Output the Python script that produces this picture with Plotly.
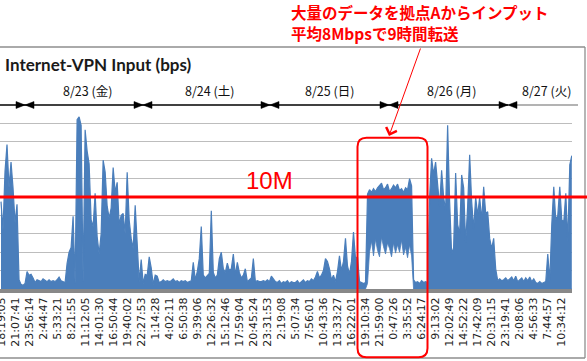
import plotly.graph_objects as go

# ---------------- data ----------------
time_labels = ["18:19:05", "21:07:41", "23:56:14", "2:44:47", "5:33:21", "8:21:55", "11:12:05",
               "14:01:30", "16:50:44", "19:40:02", "22:27:53", "1:14:28", "4:02:11", "6:50:38",
               "9:39:06", "12:26:32", "15:12:46", "17:59:04", "20:45:24", "23:31:53", "2:19:08",
               "5:07:34", "7:56:01", "10:43:36", "13:33:27", "16:22:01", "19:10:34", "21:59:00",
               "0:47:26", "3:35:52", "6:24:17", "9:13:02", "12:02:49", "14:52:22", "17:42:09",
               "20:31:15", "23:19:41", "2:08:06", "4:56:33", "7:44:57", "10:34:12"]
samples_per_label = 7

day_labels = ["8/23 (金)", "8/24 (土)", "8/25 (日)", "8/26 (月)", "8/27 (火)"]

# Internet-VPN input, upper envelope of the (very dense) trace, Mbps
input_upper_mbps = [
    9.5, 6.4, 12.8, 15.7, 11.0, 13.8, 11.0, 7.2, 9.2, 1.0,
    0.5, 0.4, 0.6, 1.9, 1.5, 1.6, 1.2, 0.7, 1.0, 0.9,
    0.8, 1.1, 0.9, 0.8, 1.0, 0.8, 0.9, 0.8, 1.0, 1.3,
    0.9, 0.8, 0.7, 2.8, 4.0, 4.5, 7.9, 0.6, 18.4, 18.7,
    17.8, 0.8, 17.3, 15.0, 13.6, 7.5, 6.8, 10.4, 5.7, 3.8,
    6.0, 14.0, 12.7, 9.0, 7.7, 8.8, 13.2, 10.5, 11.6, 7.0,
    8.0, 8.2, 6.0, 12.7, 7.5, 5.5, 4.4, 9.1, 4.0, 0.8,
    3.2, 0.6, 1.6, 1.5, 3.5, 2.3, 0.5, 1.5, 1.4, 0.7,
    0.8, 1.0, 0.8, 0.9, 0.8, 0.9, 1.1, 0.8, 0.9, 0.7,
    0.9, 0.8, 0.9, 0.7, 0.8, 0.9, 2.9, 1.0, 1.9, 3.3,
    6.8, 1.5, 1.2, 1.5, 1.7, 8.5, 1.8, 1.2, 1.5, 3.3,
    4.0, 2.2, 1.8, 2.8, 2.0, 2.2, 3.8, 1.5, 2.9, 1.8,
    1.2, 1.5, 2.2, 0.8, 1.0, 1.2, 3.3, 0.8, 0.9, 0.8,
    0.8, 0.9, 0.8, 1.0, 0.8, 1.4, 1.1, 0.8, 0.7, 0.9,
    0.6, 0.8, 0.7, 0.9, 0.6, 0.8, 0.7, 0.7, 0.9, 0.6,
    0.8, 1.0, 0.7, 0.9, 0.8, 1.1, 0.9, 1.3, 1.9, 1.2,
    1.5, 2.0, 3.3, 3.0, 2.2, 1.0, 1.5, 0.8, 1.9, 3.6,
    2.0, 3.0, 5.5, 2.5, 1.6, 3.0, 6.2, 3.3, 3.5, 0.8,
    0.7, 0.6, 0.7, 10.3, 10.8, 10.5, 10.9, 10.6, 11.0, 11.3,
    11.5, 10.8, 11.0, 11.4, 10.6, 10.9, 11.3, 11.0, 11.4, 10.7,
    10.9, 10.5, 11.0, 10.8, 12.0, 11.2, 1.0, 0.7, 0.8, 0.6,
    0.9, 0.7, 0.8, 0.7, 10.0, 14.2, 12.5, 13.8, 11.0, 9.0,
    12.9, 10.0, 8.5, 17.8, 9.5, 3.8, 4.5, 12.6, 7.0, 6.0,
    12.4, 11.0, 5.0, 9.0, 14.6, 9.5, 6.5, 10.0, 8.0, 10.0,
    7.5, 11.1, 8.2, 8.4, 5.5, 4.4, 5.5, 2.2, 0.9, 1.1,
    0.9, 1.0, 1.2, 0.9, 1.1, 1.3, 0.9, 1.4, 0.8, 1.0,
    1.2, 0.8, 1.2, 0.9, 1.3, 0.8, 1.1, 0.7, 0.6, 0.8,
    0.6, 0.7, 0.8, 3.8, 0.9, 7.0, 11.1, 7.5, 8.0, 11.1,
    7.5, 7.3, 10.4, 5.1, 13.5, 14.5,
]

# lower envelope of the trace, Mbps (non-zero only during the 9-hour transfer)
input_lower_mbps = [
    0, 0, 0, 0, 0, 0, 0, 0, 0, 0, 0, 0, 0, 0, 0, 0, 0, 0, 0, 0,
    0, 0, 0, 0, 0, 0, 0, 0, 0, 0, 0, 0, 0, 0, 0, 0, 0, 0, 0, 0,
    0, 0, 0, 0, 0, 0, 0, 0, 0, 0, 0, 0, 0, 0, 0, 0, 0, 0, 0, 0,
    0, 0, 0, 0, 0, 0, 0, 0, 0, 0, 0, 0, 0, 0, 0, 0, 0, 0, 0, 0,
    0, 0, 0, 0, 0, 0, 0, 0, 0, 0, 0, 0, 0, 0, 0, 0, 0, 0, 0, 0,
    0, 0, 0, 0, 0, 0, 0, 0, 0, 0, 0, 0, 0, 0, 0, 0, 0, 0, 0, 0,
    0, 0, 0, 0, 0, 0, 0, 0, 0, 0, 0, 0, 0, 0, 0, 0, 0, 0, 0, 0,
    0, 0, 0, 0, 0, 0, 0, 0, 0, 0, 0, 0, 0, 0, 0, 0, 0, 0, 0, 0,
    0, 0, 0, 0, 0, 0, 0, 0, 0, 0, 0, 0, 0, 0, 0, 0, 0, 0, 0, 0,
    0, 0, 0,
    0.6, 4.0, 5.2, 3.6, 5.4, 4.2, 3.5, 5.6, 4.6, 3.8, 5.0, 4.4,
    3.5, 5.0, 3.9, 4.8, 4.0, 5.3, 3.7, 4.5, 3.4, 4.8, 3.6,
    0, 0, 0, 0, 0, 0, 0, 0, 0, 0, 0, 0, 0, 0, 0, 0, 0, 0, 0, 0,
    0, 0, 0, 0, 0, 0, 0, 0, 0, 0, 0, 0, 0, 0, 0, 0, 0, 0, 0, 0,
    0, 0, 0, 0, 0, 0, 0, 0, 0, 0, 0, 0, 0, 0, 0, 0, 0, 0, 0, 0,
    0, 0, 0, 0, 0, 0, 0, 0, 0, 0, 0, 0, 0, 0, 0, 0, 0, 0, 0, 0,
]

threshold_mbps = 10
y_grid = [2, 4, 6, 8, 10, 12, 14, 16, 18, 20]

# ---------------- geometry helpers (decoration only) ----------------
W, H = 587, 361
ML, MR, MT, MB = 0, 15, 105, 72
PW = W - ML - MR
PH = H - MT - MB


def px(x):
    return (x - ML) / PW


def py(y):
    return (H - MB - y) / PH


BLUE = "#4A7EBB"
RED = "#FF0000"

xs = list(range(len(input_upper_mbps)))

fig = go.Figure()
fig.add_trace(go.Scatter(x=xs, y=input_lower_mbps, mode="lines",
                         line=dict(color=BLUE, width=0.8),
                         hoverinfo="skip", showlegend=False))
fig.add_trace(go.Scatter(x=xs, y=input_upper_mbps, mode="lines",
                         line=dict(color=BLUE, width=1.2),
                         fill="tonexty", fillcolor=BLUE,
                         name="Input", showlegend=False))

shapes = []
# chart border (top, right, bottom)
for (x0, y0, x1, y1) in [(0, 47, 585, 47), (585, 47, 585, 358), (0, 358, 585, 358)]:
    shapes.append(dict(type="line", xref="paper", yref="paper",
                       x0=px(x0), y0=py(y0), x1=px(x1), y1=py(y1),
                       line=dict(color="#8E8E8E", width=1.3)))

# day arrows
bounds = [25, 143, 270, 389, 508]
shapes.append(dict(type="line", xref="paper", yref="paper",
                   x0=px(0), y0=py(105), x1=px(508), y1=py(105),
                   line=dict(color="#000000", width=1.3)))
shapes.append(dict(type="line", xref="paper", yref="paper",
                   x0=px(508), y0=py(105), x1=px(578), y1=py(105),
                   line=dict(color="#9A9A9A", width=1.3)))
for b in bounds:
    for d in (-1, 1):
        path = "M {} {} L {} {} L {} {} Z".format(
            px(b + d * 9), py(101.5), px(b), py(105), px(b + d * 9), py(108.5))
        shapes.append(dict(type="path", xref="paper", yref="paper", path=path,
                           fillcolor="#000000", line=dict(color="#000000", width=0.5)))

# 10M line
shapes.append(dict(type="line", xref="paper", yref="y",
                   x0=0, x1=px(587), y0=threshold_mbps, y1=threshold_mbps,
                   line=dict(color=RED, width=3)))

# rounded rectangle around the transfer
x0, x1, yt, yb = px(357.5), px(427.5), py(137.7), py(357.3)
rx, ry = 9 / PW, 9 / PH
rr = ("M {a} {t} L {b} {t} Q {x1} {t} {x1} {t2} L {x1} {b2} Q {x1} {yb} {b} {yb} "
      "L {a} {yb} Q {x0} {yb} {x0} {b2} L {x0} {t2} Q {x0} {t} {a} {t} Z").format(
    a=x0 + rx, b=x1 - rx, t=yt, t2=yt - ry, b2=yb + ry, x0=x0, x1=x1, yb=yb)
shapes.append(dict(type="path", xref="paper", yref="paper", path=rr,
                   line=dict(color=RED, width=2)))

annotations = [
    dict(xref="paper", yref="paper", x=px(3), y=py(65), xanchor="left", yanchor="middle",
         text="<b>Internet-VPN Input (bps)</b>", showarrow=False,
         font=dict(family="Lato", size=17, color="#1A1A1A")),
    dict(xref="paper", yref="paper", x=px(289), y=py(12), xanchor="left", yanchor="middle",
         text="<b>大量のデータを拠点Aからインプット</b>", showarrow=False,
         font=dict(family="Noto Sans CJK JP", size=15.5, color=RED)),
    dict(xref="paper", yref="paper", x=px(289), y=py(33), xanchor="left", yanchor="middle",
         text="<b>平均8Mbpsで9時間転送</b>", showarrow=False,
         font=dict(family="Noto Sans CJK JP", size=15.5, color=RED)),
    dict(xref="paper", yref="paper", x=px(295), y=py(180), xanchor="right", yanchor="middle",
         text="10M", showarrow=False,
         font=dict(family="Liberation Sans", size=24, color=RED)),
    dict(xref="paper", yref="paper", x=px(389), y=py(136), text="", showarrow=True,
         ax=32, ay=-89, axref="pixel", ayref="pixel",
         arrowhead=4, arrowsize=2.2, arrowwidth=1, arrowcolor=RED, standoff=0),
]
day_centers = [87, 209.5, 329, 451.5, 546.5]
for lab, c in zip(day_labels, day_centers):
    annotations.append(dict(xref="paper", yref="paper", x=px(c), y=py(90),
                            xanchor="center", yanchor="middle", text=lab, showarrow=False,
                            font=dict(family="Noto Sans CJK JP", size=12.5, color="#111111")))

fig.update_layout(
    width=W, height=H,
    margin=dict(l=ML, r=MR, t=MT, b=MB, pad=0, autoexpand=False),
    paper_bgcolor="white", plot_bgcolor="white",
    showlegend=False,
    shapes=shapes,
    annotations=annotations,
    xaxis=dict(range=[-0.5, 285.1], tickmode="array", automargin=False,
               tickvals=[samples_per_label * k for k in range(len(time_labels))],
               ticktext=time_labels, tickangle=-90, ticks="",
               ticklabeloverflow="allow",
               tickfont=dict(family="DejaVu Sans", size=11, color="#222222"),
               showgrid=False, zeroline=False,
               showline=True, linecolor="#888888", linewidth=4),
    yaxis=dict(range=[0, 20], tickmode="array", tickvals=y_grid, automargin=False,
               showticklabels=False, ticks="", showgrid=True,
               gridcolor="#BDBDBD", gridwidth=1, zeroline=False, showline=False),
)

fig.write_html("out.html", config={"displayModeBar": False},
               post_script="document.body.style.margin='0';document.body.style.overflow='hidden';")
